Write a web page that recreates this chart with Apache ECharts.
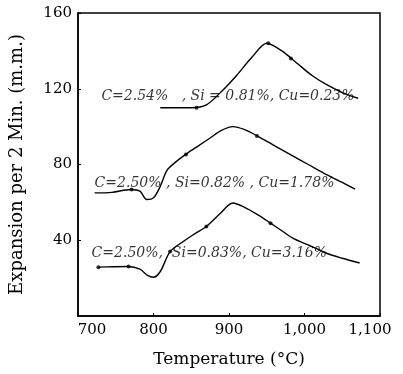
<!DOCTYPE html>
<html>
<head>
<meta charset="utf-8">
<script src="https://cdn.jsdelivr.net/npm/echarts@6/dist/echarts.min.js"></script>
<style>
  html, body { margin: 0; padding: 0; background: #fff; }
  #chart { width: 403px; height: 374px; }
</style>
</head>
<body>
<div id="chart"></div>
<script>
// curve samples (temperature, expansion)
var cu023Temp = [809, 830, 850, 870, 890, 910, 930, 950, 970, 990, 1010, 1030, 1050, 1071];
var cu023Exp  = [110, 110, 110, 111.5, 118.5, 127, 136.5, 144, 140, 133.5, 127, 122, 118, 115];
var cu023DotTemp = [857, 952, 982];
var cu023DotExp  = [110, 144, 136];

var cu178Temp = [722, 745, 770, 782, 791, 800, 809, 818, 830, 845, 860, 875, 890, 905, 920, 940, 960, 985, 1005, 1030, 1050, 1067];
var cu178Exp  = [65, 65.3, 66.8, 65.9, 61.5, 62.4, 68.5, 77, 81.5, 86, 90, 94, 98, 100, 98.5, 94.5, 90, 84.4, 80, 74.5, 70.5, 67];
var cu178DotTemp = [771, 843, 937];
var cu178DotExp  = [66.8, 85.3, 95];

var cu316Temp = [727, 747, 767, 782, 792, 800, 809, 822, 840, 855, 870, 888, 905, 920, 940, 955, 970, 985, 1005, 1030, 1050, 1073];
var cu316Exp  = [25.8, 26, 26.1, 24.7, 21.5, 20.5, 23.5, 34, 39.5, 43.5, 47.3, 54, 59.7, 57.5, 53, 49, 45, 41, 37.5, 33, 30.5, 28];
var cu316DotTemp = [727, 767, 822, 870, 955];
var cu316DotExp  = [25.8, 26.1, 34, 47.3, 49];

var noteText = ['C=2.54%   , Si = 0.81%, Cu=0.23%', 'C=2.50% , Si=0.82% , Cu=1.78%', 'C=2.50%,  Si=0.83%, Cu=3.16%'];
var noteTemp = [731, 722, 718];
var noteExp  = [116, 70, 33];

var xTicks = {700: '700', 800: '800', 900: '900', 1000: '1,000', 1100: '1,100'};

function pairs(xs, ys) {
    var out = [];
    for (var i = 0; i < xs.length; i++) out.push([xs[i], ys[i]]);
    return out;
}

function curve(xs, ys) {
    return {
        type: 'line',
        data: pairs(xs, ys),
        smooth: 0.3,
        showSymbol: false,
        lineStyle: { color: '#000', width: 1.4 },
        silent: true
    };
}

function dots(xs, ys) {
    return {
        type: 'scatter',
        data: pairs(xs, ys),
        symbolSize: 4,
        itemStyle: { color: '#000' },
        silent: true
    };
}

var notes = [];
for (var i = 0; i < noteText.length; i++) notes.push({ value: [noteTemp[i], noteExp[i]], name: noteText[i] });

var chart = echarts.init(document.getElementById('chart'));
chart.setOption({
    animation: false,
    grid: {
        left: 78, right: 23, top: 13, bottom: 58,
        show: true, borderColor: '#000', borderWidth: 1.5
    },
    xAxis: {
        type: 'value',
        min: 700, max: 1100, interval: 100,
        name: 'Temperature (°C)',
        nameLocation: 'middle',
        nameGap: 35,
        nameTextStyle: { fontFamily: 'DejaVu Serif', fontSize: 17, color: '#000' },
        axisLine: { lineStyle: { color: '#000', width: 1.5 } },
        axisTick: { inside: true, length: 3, lineStyle: { color: '#000' } },
        splitLine: { show: false },
        axisLabel: {
            margin: 7,
            fontFamily: 'DejaVu Serif', fontSize: 15, color: '#000',
            formatter: function (v) {
                if (v === 700) return '{a|700}';
                if (v === 1100) return '{b|1,100}';
                return xTicks[v];
            },
            rich: {
                a: { padding: [0, 0, 0, 28], fontFamily: 'DejaVu Serif', fontSize: 15, color: '#000' },
                b: { padding: [0, 20, 0, 0], fontFamily: 'DejaVu Serif', fontSize: 15, color: '#000' }
            }
        }
    },
    yAxis: {
        type: 'value',
        min: 0, max: 160, interval: 40,
        name: 'Expansion per 2 Min. (m.m.)',
        nameLocation: 'middle',
        nameGap: 52,
        nameTextStyle: { fontFamily: 'DejaVu Serif', fontSize: 18, color: '#000' },
        axisLine: { show: true, lineStyle: { color: '#000', width: 1.5 } },
        axisTick: { show: true, inside: true, length: 3, lineStyle: { color: '#000' } },
        splitLine: { show: false },
        axisLabel: {
            margin: 6, showMinLabel: false,
            fontFamily: 'DejaVu Serif', fontSize: 15, color: '#000'
        }
    },
    series: [
        curve(cu023Temp, cu023Exp),
        curve(cu178Temp, cu178Exp),
        curve(cu316Temp, cu316Exp),
        dots(cu023DotTemp, cu023DotExp),
        dots(cu178DotTemp, cu178DotExp),
        dots(cu316DotTemp, cu316DotExp),
        {
            type: 'scatter',
            data: notes,
            symbolSize: 0,
            silent: true,
            label: {
                show: true,
                position: 'right',
                distance: 0,
                formatter: '{b}',
                fontFamily: 'DejaVu Serif',
                fontStyle: 'italic',
                fontSize: 14,
                color: '#000'
            }
        }
    ]
});
</script>
</body>
</html>
